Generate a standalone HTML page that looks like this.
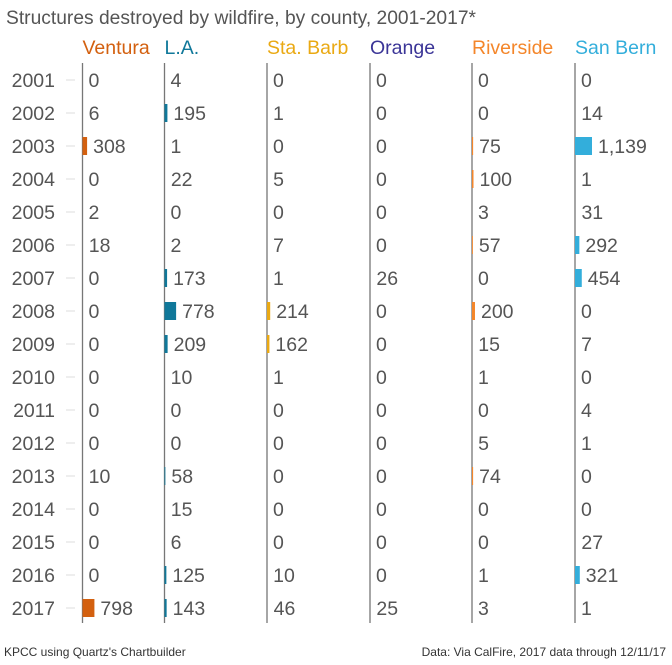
<!DOCTYPE html>
<html><head><meta charset="utf-8">
<style>
body{margin:0;background:#fff;font-family:"Liberation Sans",Arial,sans-serif;}
svg text{font-family:"Liberation Sans",Arial,sans-serif;}
</style></head><body>
<svg id="c" width="672" height="660" xmlns="http://www.w3.org/2000/svg">
<text x="6" y="24" font-size="19.5" fill="#555" textLength="470" lengthAdjust="spacingAndGlyphs">Structures destroyed by wildfire, by county, 2001-2017*</text>
<text x="4" y="656" font-size="12" fill="#333">KPCC using Quartz's Chartbuilder</text>
<text x="666" y="656" font-size="12" fill="#333" text-anchor="end">Data: Via CalFire, 2017 data through 12/11/17</text>
<g id="g"></g>
</svg>
<script>
const years=[2001,2002,2003,2004,2005,2006,2007,2008,2009,2010,2011,2012,2013,2014,2015,2016,2017];
const counties=["Ventura","L.A.","Sta. Barb","Orange","Riverside","San Bern"];
const ventura=[0,6,308,0,2,18,0,0,0,0,0,0,10,0,0,0,798];
const la=[4,195,1,22,0,2,173,778,209,10,0,0,58,15,6,125,143];
const staBarb=[0,1,0,5,0,7,1,214,162,1,0,0,0,0,0,10,46];
const orange=[0,0,0,0,0,0,26,0,0,0,0,0,0,0,0,0,25];
const riverside=[0,0,75,100,3,57,0,200,15,1,0,5,74,0,0,1,3];
const sanBern=[0,14,1139,1,31,292,454,0,7,0,4,1,0,0,27,321,1];
const series=[ventura,la,staBarb,orange,riverside,sanBern];
const colors=["#d3600f","#10789a","#eaa913","#3b3597","#f4862a","#33aedb"];
const colX=[82.5,164.5,267,370,472,575];
const y=i=>80+i*33;
const w=v=>v*17/1139;
const g=document.getElementById('g');
const NS="http://www.w3.org/2000/svg";
function mk(t,a){const e=document.createElementNS(NS,t);for(const k in a)e.setAttribute(k,a[k]);g.appendChild(e);return e;}
years.forEach((yr,i)=>{
  const t=mk('text',{x:55,y:y(i)+7,'font-size':19.5,fill:'#555','text-anchor':'end'});
  t.textContent=yr;
  
  
  const l=mk('line',{x1:66,x2:75,y1:y(i),y2:y(i),stroke:'#ddd','stroke-width':1});
  
  
});
counties.forEach((c,j)=>{
  const h=mk('text',{x:colX[j],y:54,'font-size':19.5,fill:colors[j]});
  h.textContent=c;
  
  
  const ax=mk('line',{x1:colX[j],x2:colX[j],y1:63,y2:623,stroke:'#777','stroke-width':1.3});
  
  
  series[j].forEach((v,i)=>{
    const bw=w(v);
    if(bw>=0.8){
      const r=mk('rect',{x:colX[j],y:y(i)-9,width:bw,height:18,fill:colors[j]});
      
      
    }
    const t=mk('text',{x:colX[j]+bw+6,y:y(i)+7,'font-size':19.5,fill:'#555'});
    t.textContent=v.toLocaleString('en-US');
    
    
  });
});
</script>
</body></html>
